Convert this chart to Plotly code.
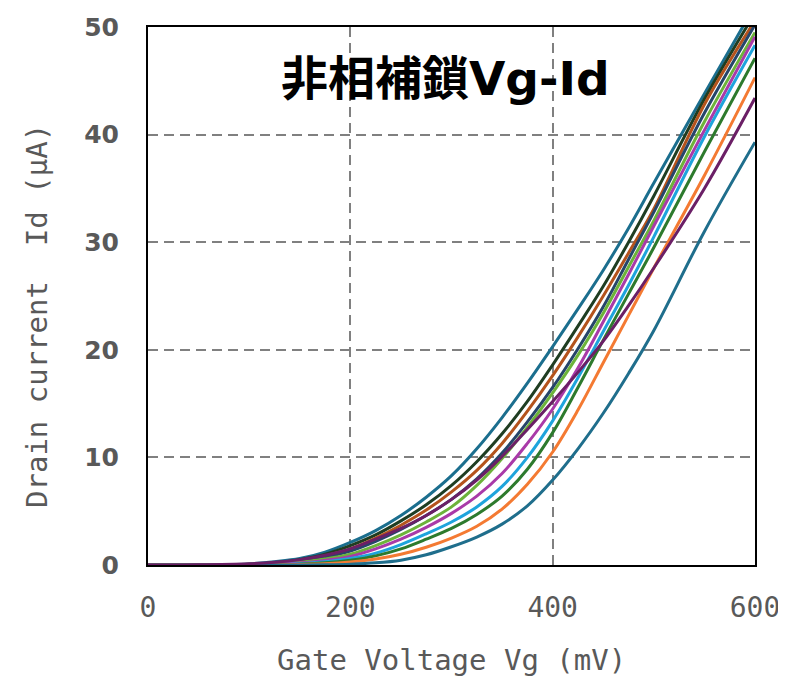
import plotly.graph_objects as go

# Gate voltage (mV)
vg = [0, 50, 100, 125, 150, 175, 200, 225, 250, 275, 300, 325, 350, 375,
      400, 425, 450, 475, 500, 550, 600]

# Drain current (uA) per curve
id_t1 = [0, 0, 0.1, 0.3, 0.6, 1.2, 2.1, 3.2, 4.6, 6.3, 8.3, 10.8, 13.7, 16.9,
         20.3, 23.8, 27.4, 31.3, 35.5, 43.8, 52.0]
id_k = [0, 0, 0.07, 0.2, 0.5, 1.0, 1.8, 2.8, 4.1, 5.6, 7.4, 9.6, 12.2, 15.2,
        18.6, 22.2, 25.9, 30.0, 34.3, 43.3, 51.3]
id_br = [0, 0, 0.05, 0.15, 0.4, 0.85, 1.5, 2.5, 3.7, 5.1, 6.8, 8.8, 11.3, 14.3,
         17.6, 21.2, 25.0, 29.0, 33.1, 42.8, 50.6]
id_nv = [0, 0, 0.04, 0.12, 0.33, 0.72, 1.3, 2.2, 3.3, 4.6, 6.1, 8.0, 10.4, 13.3,
         16.5, 20.1, 24.0, 28.4, 32.8, 42.0, 50.2]
id_lg = [0, 0, 0.03, 0.1, 0.25, 0.55, 1.0, 1.8, 2.8, 4.0, 5.4, 7.4, 9.9, 12.8,
         16.0, 19.5, 23.4, 27.7, 32.0, 41.2, 49.5]
id_mg = [0, 0, 0.02, 0.07, 0.18, 0.42, 0.8, 1.5, 2.4, 3.5, 4.8, 6.4, 8.5, 11.3,
         14.5, 18.3, 22.6, 27.0, 31.5, 40.4, 49.1]
id_bl = [0, 0, 0.01, 0.04, 0.12, 0.3, 0.6, 1.1, 1.9, 2.9, 4.0, 5.4, 7.3, 10.0,
         13.4, 17.4, 21.7, 26.0, 30.5, 39.8, 48.3]
id_dg = [0, 0, 0.01, 0.03, 0.08, 0.2, 0.45, 0.85, 1.5, 2.4, 3.4, 4.7, 6.4, 8.9,
         12.3, 16.5, 20.9, 25.2, 29.5, 38.4, 47.1]
id_or = [0, 0, 0, 0.02, 0.05, 0.12, 0.28, 0.55, 1.0, 1.65, 2.5, 3.6, 5.2, 7.5,
         10.5, 14.4, 18.8, 23.2, 27.6, 36.2, 45.3]
id_t2 = [0, 0, 0, 0, 0.01, 0.03, 0.08, 0.2, 0.45, 0.95, 1.7, 2.6, 3.8, 5.5,
         7.9, 10.8, 14.1, 17.8, 21.8, 31.0, 39.3]
id_pu = [0, 0.02, 0.12, 0.25, 0.5, 0.9, 1.5, 2.4, 3.4, 4.6, 6.1, 7.9, 10.1, 12.6,
         15.2, 17.9, 20.8, 24.1, 27.6, 35.0, 43.4]

series = [
    (id_t1, "#1b6e8e"),
    (id_k, "#1f3d22"),
    (id_br, "#b4531c"),
    (id_nv, "#26456a"),
    (id_lg, "#6cb33a"),
    (id_mg, "#a93aa8"),
    (id_bl, "#1ea4dc"),
    (id_dg, "#2d7a2d"),
    (id_or, "#f47a32"),
    (id_t2, "#1f6e8c"),
    (id_pu, "#6b1f66"),
]

x_ticks = [0, 200, 400, 600]
y_ticks = [0, 10, 20, 30, 40, 50]

title_text = "非相補鎖Vg-Id"
x_title = "Gate Voltage Vg (mV)"
y_title = "Drain current  Id (μA)"

fig = go.Figure()
for ys, col in series:
    fig.add_trace(go.Scatter(
        x=vg, y=ys, mode="lines",
        line=dict(color=col, width=3, shape="spline", smoothing=1.0),
        showlegend=False, hoverinfo="skip",
    ))

mono = "DejaVu Sans Mono, monospace"
grid_dash = "10px,6px"

# the page body has an 8px margin, so the figure is 8px smaller and margins shifted
fig.update_layout(
    width=778, height=672,
    margin=dict(l=140, r=31, t=19, b=115),
    paper_bgcolor="white", plot_bgcolor="white",
    showlegend=False,
)
fig.update_xaxes(
    range=[0, 600], tickvals=x_ticks, ticktext=[str(v) for v in x_ticks],
    showline=True, linecolor="black", linewidth=2, mirror=True,
    showgrid=True, gridcolor="#808080", gridwidth=2, griddash=grid_dash,
    zeroline=False, ticks="", ticklabelstandoff=16, automargin=False,
    tickfont=dict(family=mono, size=28, color="#595959"),
)
fig.update_yaxes(
    range=[0, 50], tickvals=y_ticks, ticktext=[str(v) for v in y_ticks],
    showline=True, linecolor="black", linewidth=2, mirror=True,
    showgrid=True, gridcolor="#808080", gridwidth=2, griddash=grid_dash,
    zeroline=False, ticks="", ticklabelstandoff=22, automargin=False,
    tickfont=dict(family="DejaVu Sans", size=25, color="#595959", weight="bold"),
)

pw, ph = 607, 538
fig.add_annotation(
    text=title_text, xref="paper", yref="paper",
    x=(445 - 148) / pw, y=(565 - 78) / ph, xanchor="center", yanchor="middle",
    showarrow=False,
    font=dict(family="DejaVu Sans, Noto Sans CJK JP", size=47, color="black", weight="bold"),
)
fig.add_annotation(
    text=x_title, xref="paper", yref="paper",
    x=0.5, y=(565 - 660) / ph, xanchor="center", yanchor="middle",
    showarrow=False,
    font=dict(family=mono, size=29, color="#595959"),
)
fig.add_annotation(
    text=y_title, xref="paper", yref="paper",
    x=(37 - 148) / pw, y=(565 - 316) / ph, xanchor="center", yanchor="middle",
    showarrow=False, textangle=-90,
    font=dict(family=mono, size=29, color="#595959"),
)

fig.write_html("out.html")
